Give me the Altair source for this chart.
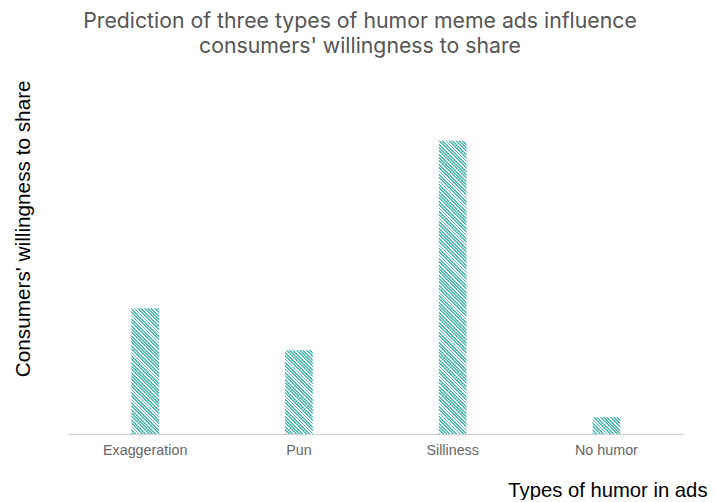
import altair as alt
import pandas as pd

# ---- data ----
categories = ["Exaggeration", "Pun", "Silliness", "No humor"]
values = [0.30, 0.20, 0.70, 0.04]

title_lines = ["Prediction of three types of humor meme ads influence",
               "consumers' willingness to share"]
x_title = "Types of humor in ads"
y_title = "Consumers' willingness to share"

# ---- layout / style ----
W, H = 622, 339
Y_MAX = 0.8
BAR_W = 28
STRIPE = "#4fc0b8"
PERIOD = 3.4   # horizontal stripe period in px
DUTY = 0.55

df = pd.DataFrame({"cat": categories, "val": values})


def hatch(h_px, w_px=BAR_W):
    """Diagonal hatch approximated by a sharp-stop linear gradient."""
    s = (w_px + h_px) / (w_px ** 2 + h_px ** 2)
    n = (w_px + h_px) / PERIOD
    stops = []
    k = 0
    while k / n <= 1.0:
        a = k / n
        b = min((k + DUTY) / n, 1.0)
        c = min((k + 1) / n, 1.0)
        stops += [
            alt.GradientStop(offset=a, color=STRIPE),
            alt.GradientStop(offset=b, color=STRIPE),
            alt.GradientStop(offset=b, color="#ffffff"),
            alt.GradientStop(offset=c, color="#ffffff"),
        ]
        k += 1
    return alt.LinearGradient(gradient="linear", stops=stops,
                              x1=0, y1=1, x2=s * w_px, y2=1 - s * h_px)


x_enc = alt.X("cat:N", sort=categories, scale=alt.Scale(domain=categories),
              axis=alt.Axis(title=x_title, labelAngle=0, ticks=False,
                            labelFontSize=14.5, labelColor="#666666",
                            labelFont="Liberation Sans", labelPadding=10,
                            domainColor="#cccccc", domainWidth=1,
                            titleFont="Liberation Sans", titleFontSize=20.5,
                            titleFontWeight="normal", titleColor="#000000",
                            titleAlign="right", titleBaseline="alphabetic",
                            titleX=646, titleY=63, grid=False))
y_enc = alt.Y("val:Q", scale=alt.Scale(domain=[0, Y_MAX], nice=False),
              axis=alt.Axis(title=y_title, labels=False, ticks=False,
                            domain=False, grid=False,
                            titleFont="Liberation Sans", titleFontSize=21,
                            titleFontWeight="normal", titleColor="#000000",
                            titleAlign="center", titleBaseline="alphabetic",
                            titleAngle=-90, titleX=-39, titleY=131))

layers = []
for cat, v in zip(categories, values):
    h_px = v * H / Y_MAX
    layers.append(
        alt.Chart(df).transform_filter(alt.datum.cat == cat)
        .mark_bar(width=BAR_W, fill=hatch(h_px), strokeWidth=0)
        .encode(x=x_enc, y=y_enc)
    )

chart = alt.layer(*layers).properties(
    width=W, height=H,
    autosize="none",
    padding={"left": 61, "top": 89, "right": 26, "bottom": 64},
    background="#ffffff",
    title=alt.TitleParams(text=title_lines, fontSize=21.5, font="Inter",
                          fontWeight="normal", color="#555555",
                          anchor="middle", lineHeight=25, offset=23, dx=-16),
).configure_view(stroke=None)

chart.save("out.html", embed_options={"renderer": "svg", "actions": False})
